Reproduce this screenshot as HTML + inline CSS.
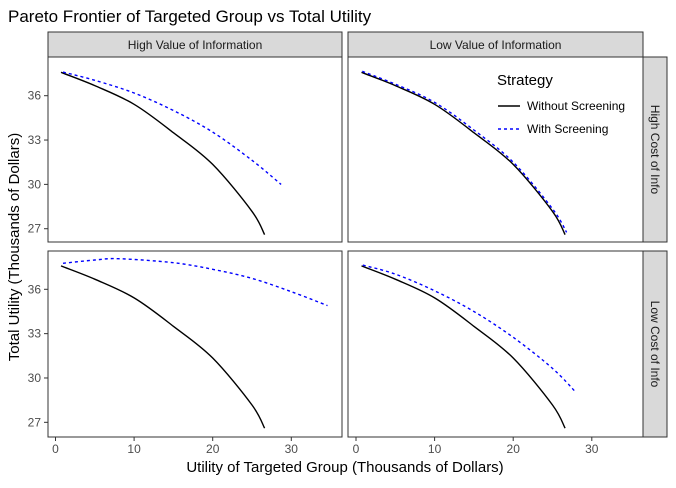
<!DOCTYPE html>
<html><head><meta charset="utf-8"><style>
body{margin:0;background:#fff;font-family:"Liberation Sans",sans-serif}
</style></head><body>
<svg id="c" width="676" height="483" xmlns="http://www.w3.org/2000/svg" font-family="Liberation Sans, sans-serif"></svg>
<script>
const xTicks=[0,10,20,30];
const yTicks=[27,30,33,36];
const blackX=[0.7,5,10,15,20,25,26.6];
const blackY=[37.58,36.68,35.42,33.5,31.35,28.17,26.6];
const blueTLX=[0.95,5,10,15,20,25,28.7];
const blueTLY=[37.6,37.04,36.18,35.0,33.54,31.63,30.0];
const blueTRX=[0.8,5,10,15,20,25,26.8];
const blueTRY=[37.65,36.78,35.55,33.68,31.5,28.35,26.75];
const blueBLX=[0.95,5,8,15,20,25,30,34.6];
const blueBLY=[37.76,37.98,38.07,37.8,37.35,36.74,35.84,34.9];
const blueBRX=[0.86,5,10,15,20,25,27.9];
const blueBRY=[37.64,37.03,35.9,34.5,32.75,30.65,29.07];
const NS="http://www.w3.org/2000/svg";
const svg=document.getElementById('c');
function el(t,a,p){const e=document.createElementNS(NS,t);for(const k in a)e.setAttribute(k,a[k]);(p||svg).appendChild(e);return e;}
const cols=[{l:48,r:342,x0:55.5},{l:348,r:643,x0:356}];
const rows=[{t:57,b:242,y36:95.7},{t:251,b:437,y36:289.3}];
const xs=7.86, ys=14.78;
function X(c,v){return cols[c].x0+v*xs;}
function Y(r,v){return rows[r].y36-(v-36)*ys;}
function spline(pts){
  let d='M'+pts[0][0].toFixed(1)+','+pts[0][1].toFixed(1);
  for(let i=0;i<pts.length-1;i++){
    const p0=pts[Math.max(0,i-1)],p1=pts[i],p2=pts[i+1],p3=pts[Math.min(pts.length-1,i+2)];
    const c1=[p1[0]+(p2[0]-p0[0])/6,p1[1]+(p2[1]-p0[1])/6];
    const c2=[p2[0]-(p3[0]-p1[0])/6,p2[1]-(p3[1]-p1[1])/6];
    d+='C'+c1[0].toFixed(1)+','+c1[1].toFixed(1)+' '+c2[0].toFixed(1)+','+c2[1].toFixed(1)+' '+p2[0].toFixed(1)+','+p2[1].toFixed(1);
  }
  return d;
}
const t=el('text',{x:8,y:22,'font-size':17,fill:'#000'});

t.textContent='Pareto Frontier of Targeted Group vs Total Utility';
const series=[[0,0,blueTLX,blueTLY],[1,0,blueTRX,blueTRY],[0,1,blueBLX,blueBLY],[1,1,blueBRX,blueBRY]];
for(let r=0;r<2;r++)for(let c=0;c<2;c++){
  const p=el('rect',{x:cols[c].l,y:rows[r].t,width:cols[c].r-cols[c].l,height:rows[r].b-rows[r].t,fill:'#fff',stroke:'#333','stroke-width':1});
  
  const line=(xa,ya,col,dash,name)=>{const pts=xa.map((v,i)=>[X(c,v),Y(r,ya[i])]);
    const e=el('path',{d:spline(pts),fill:'none',stroke:col,'stroke-width':1.4,'stroke-dasharray':dash});
    };
  line(blackX,blackY,'#000','none','without-screening-line');
  const s=series.find(q=>q[0]===c&&q[1]===r);
  line(s[2],s[3],'#0000ff','3,3','with-screening-line');
  if(c===0){yTicks.forEach(v=>{el('line',{x1:44,x2:48,y1:Y(r,v),y2:Y(r,v),stroke:'#333'});
    const tt=el('text',{x:41,y:Y(r,v)+4,'text-anchor':'end','font-size':12,fill:'#4d4d4d'});
    tt.textContent=v;});}
  if(r===1){xTicks.forEach(v=>{el('line',{x1:X(c,v),x2:X(c,v),y1:437,y2:441,stroke:'#333'});
    const tt=el('text',{x:X(c,v),y:453,'text-anchor':'middle','font-size':12,fill:'#4d4d4d'});
    tt.textContent=v;});}
}
const colNames=['High Value of Information','Low Value of Information'];
cols.forEach((c,i)=>{const s=el('rect',{x:c.l,y:32,width:c.r-c.l,height:25,fill:'#d9d9d9',stroke:'#333'});
  
  const tt=el('text',{x:(c.l+c.r)/2,y:49,'text-anchor':'middle','font-size':12,fill:'#1a1a1a'});
  tt.textContent=colNames[i];});
const rowNames=['High Cost of Info','Low Cost of Info'];
rows.forEach((r,i)=>{const s=el('rect',{x:643,y:r.t,width:24,height:r.b-r.t,fill:'#d9d9d9',stroke:'#333'});
  
  const cy=(r.t+r.b)/2;
  const tt=el('text',{x:651,y:cy,'text-anchor':'middle','font-size':12,fill:'#1a1a1a',transform:'rotate(90 651 '+cy+')'});
  tt.textContent=rowNames[i];});
const xt=el('text',{x:345,y:472,'text-anchor':'middle','font-size':15,fill:'#000'});

xt.textContent='Utility of Targeted Group (Thousands of Dollars)';
const yt=el('text',{x:19,y:247,'text-anchor':'middle','font-size':15,fill:'#000',transform:'rotate(-90 19 247)'});

yt.textContent='Total Utility (Thousands of Dollars)';
const lt=el('text',{x:497,y:85,'font-size':15,fill:'#000'});
lt.textContent='Strategy';
[['Without Screening','#000','none',106],['With Screening','#0000ff','3,3',129]].forEach(e=>{
  const l=el('line',{x1:498,x2:520,y1:e[3],y2:e[3],stroke:e[1],'stroke-width':1.4,'stroke-dasharray':e[2]});
  
  const tt=el('text',{x:527,y:e[3]+4,'font-size':12,fill:'#000'});
  tt.textContent=e[0];});
</script>
</body></html>
